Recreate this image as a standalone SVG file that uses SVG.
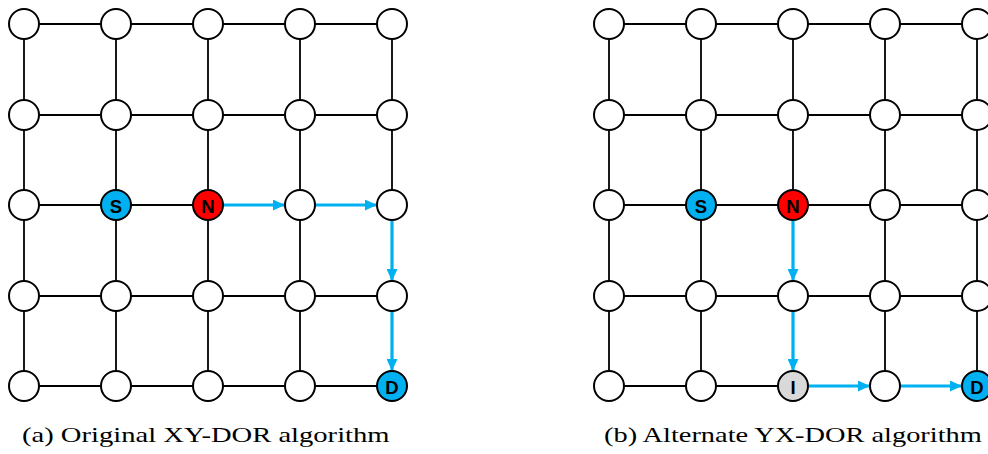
<svg xmlns="http://www.w3.org/2000/svg" width="988" height="454" viewBox="0 0 988 454">
  <style>
    .edge { stroke: #000; stroke-width: 1.8; fill: none; }
    .route { stroke: #00B0F0; stroke-width: 3.2; fill: none; marker-end: url(#head); }
    .node { fill: #fff; stroke: #000; stroke-width: 2; }
    .src { fill: #00B0F0; }
    .cur { fill: #FF0000; }
    .mid { fill: #D9D9D9; }
    .lbl { font-family: "Liberation Sans", Arial, sans-serif; font-weight: bold; font-size: 18.5px; text-anchor: middle; dominant-baseline: central; fill: #000; }
    .cap { font-family: "Liberation Serif", "Times New Roman", serif; font-size: 22px; fill: #000; }
  </style>
  <defs>
    <marker id="head" markerUnits="userSpaceOnUse" markerWidth="12" markerHeight="11" refX="12" refY="5.5" orient="auto">
      <path d="M0,0 L12,5.5 L0,11 Z" fill="#00B0F0"/>
    </marker>
  </defs>
  <rect width="988" height="454" fill="#fff"/>

  <!-- mesh links and routed paths -->
  <g id="connectors">
    <!-- (a) horizontal links -->
    <line class="edge" x1="24" y1="24" x2="116" y2="24"/>
    <line class="edge" x1="116" y1="24" x2="208" y2="24"/>
    <line class="edge" x1="208" y1="24" x2="300" y2="24"/>
    <line class="edge" x1="300" y1="24" x2="392" y2="24"/>
    <line class="edge" x1="24" y1="115" x2="116" y2="115"/>
    <line class="edge" x1="116" y1="115" x2="208" y2="115"/>
    <line class="edge" x1="208" y1="115" x2="300" y2="115"/>
    <line class="edge" x1="300" y1="115" x2="392" y2="115"/>
    <line class="edge" x1="24" y1="205" x2="116" y2="205"/>
    <line class="edge" x1="116" y1="205" x2="208" y2="205"/>
    <line class="edge" x1="24" y1="296" x2="116" y2="296"/>
    <line class="edge" x1="116" y1="296" x2="208" y2="296"/>
    <line class="edge" x1="208" y1="296" x2="300" y2="296"/>
    <line class="edge" x1="300" y1="296" x2="392" y2="296"/>
    <line class="edge" x1="24" y1="386" x2="116" y2="386"/>
    <line class="edge" x1="116" y1="386" x2="208" y2="386"/>
    <line class="edge" x1="208" y1="386" x2="300" y2="386"/>
    <line class="edge" x1="300" y1="386" x2="392" y2="386"/>
    <!-- (a) vertical links -->
    <line class="edge" x1="24" y1="24" x2="24" y2="115"/>
    <line class="edge" x1="24" y1="115" x2="24" y2="205"/>
    <line class="edge" x1="24" y1="205" x2="24" y2="296"/>
    <line class="edge" x1="24" y1="296" x2="24" y2="386"/>
    <line class="edge" x1="116" y1="24" x2="116" y2="115"/>
    <line class="edge" x1="116" y1="115" x2="116" y2="205"/>
    <line class="edge" x1="116" y1="205" x2="116" y2="296"/>
    <line class="edge" x1="116" y1="296" x2="116" y2="386"/>
    <line class="edge" x1="208" y1="24" x2="208" y2="115"/>
    <line class="edge" x1="208" y1="115" x2="208" y2="205"/>
    <line class="edge" x1="208" y1="205" x2="208" y2="296"/>
    <line class="edge" x1="208" y1="296" x2="208" y2="386"/>
    <line class="edge" x1="300" y1="24" x2="300" y2="115"/>
    <line class="edge" x1="300" y1="115" x2="300" y2="205"/>
    <line class="edge" x1="300" y1="205" x2="300" y2="296"/>
    <line class="edge" x1="300" y1="296" x2="300" y2="386"/>
    <line class="edge" x1="392" y1="24" x2="392" y2="115"/>
    <line class="edge" x1="392" y1="115" x2="392" y2="205"/>
    <!-- (a) XY route -->
    <line class="route" x1="223" y1="205" x2="285" y2="205"/>
    <line class="route" x1="315" y1="205" x2="377" y2="205"/>
    <line class="route" x1="392" y1="220" x2="392" y2="281"/>
    <line class="route" x1="392" y1="311" x2="392" y2="371"/>

    <!-- (b) horizontal links -->
    <line class="edge" x1="609" y1="24" x2="701" y2="24"/>
    <line class="edge" x1="701" y1="24" x2="793" y2="24"/>
    <line class="edge" x1="793" y1="24" x2="885" y2="24"/>
    <line class="edge" x1="885" y1="24" x2="977" y2="24"/>
    <line class="edge" x1="609" y1="115" x2="701" y2="115"/>
    <line class="edge" x1="701" y1="115" x2="793" y2="115"/>
    <line class="edge" x1="793" y1="115" x2="885" y2="115"/>
    <line class="edge" x1="885" y1="115" x2="977" y2="115"/>
    <line class="edge" x1="609" y1="205" x2="701" y2="205"/>
    <line class="edge" x1="701" y1="205" x2="793" y2="205"/>
    <line class="edge" x1="793" y1="205" x2="885" y2="205"/>
    <line class="edge" x1="885" y1="205" x2="977" y2="205"/>
    <line class="edge" x1="609" y1="296" x2="701" y2="296"/>
    <line class="edge" x1="701" y1="296" x2="793" y2="296"/>
    <line class="edge" x1="793" y1="296" x2="885" y2="296"/>
    <line class="edge" x1="885" y1="296" x2="977" y2="296"/>
    <line class="edge" x1="609" y1="386" x2="701" y2="386"/>
    <line class="edge" x1="701" y1="386" x2="793" y2="386"/>
    <!-- (b) vertical links -->
    <line class="edge" x1="609" y1="24" x2="609" y2="115"/>
    <line class="edge" x1="609" y1="115" x2="609" y2="205"/>
    <line class="edge" x1="609" y1="205" x2="609" y2="296"/>
    <line class="edge" x1="609" y1="296" x2="609" y2="386"/>
    <line class="edge" x1="701" y1="24" x2="701" y2="115"/>
    <line class="edge" x1="701" y1="115" x2="701" y2="205"/>
    <line class="edge" x1="701" y1="205" x2="701" y2="296"/>
    <line class="edge" x1="701" y1="296" x2="701" y2="386"/>
    <line class="edge" x1="793" y1="24" x2="793" y2="115"/>
    <line class="edge" x1="793" y1="115" x2="793" y2="205"/>
    <line class="edge" x1="885" y1="24" x2="885" y2="115"/>
    <line class="edge" x1="885" y1="115" x2="885" y2="205"/>
    <line class="edge" x1="885" y1="205" x2="885" y2="296"/>
    <line class="edge" x1="885" y1="296" x2="885" y2="386"/>
    <line class="edge" x1="977" y1="24" x2="977" y2="115"/>
    <line class="edge" x1="977" y1="115" x2="977" y2="205"/>
    <line class="edge" x1="977" y1="205" x2="977" y2="296"/>
    <line class="edge" x1="977" y1="296" x2="977" y2="386"/>
    <!-- (b) YX route -->
    <line class="route" x1="793" y1="220" x2="793" y2="281"/>
    <line class="route" x1="793" y1="311" x2="793" y2="371"/>
    <line class="route" x1="808" y1="386" x2="870" y2="386"/>
    <line class="route" x1="900" y1="386" x2="962" y2="386"/>
  </g>

  <!-- (a) mesh routers -->
  <g id="a-r1c1"><circle class="node" cx="24" cy="24" r="15"/></g>
  <g id="a-r1c2"><circle class="node" cx="116" cy="24" r="15"/></g>
  <g id="a-r1c3"><circle class="node" cx="208" cy="24" r="15"/></g>
  <g id="a-r1c4"><circle class="node" cx="300" cy="24" r="15"/></g>
  <g id="a-r1c5"><circle class="node" cx="392" cy="24" r="15"/></g>
  <g id="a-r2c1"><circle class="node" cx="24" cy="115" r="15"/></g>
  <g id="a-r2c2"><circle class="node" cx="116" cy="115" r="15"/></g>
  <g id="a-r2c3"><circle class="node" cx="208" cy="115" r="15"/></g>
  <g id="a-r2c4"><circle class="node" cx="300" cy="115" r="15"/></g>
  <g id="a-r2c5"><circle class="node" cx="392" cy="115" r="15"/></g>
  <g id="a-r3c1"><circle class="node" cx="24" cy="205" r="15"/></g>
  <g id="a-source"><circle class="node src" cx="116" cy="205" r="15"/><text class="lbl" x="116" y="206">S</text></g>
  <g id="a-current"><circle class="node cur" cx="208" cy="205" r="15"/><text class="lbl" x="208" y="206">N</text></g>
  <g id="a-r3c4"><circle class="node" cx="300" cy="205" r="15"/></g>
  <g id="a-r3c5"><circle class="node" cx="392" cy="205" r="15"/></g>
  <g id="a-r4c1"><circle class="node" cx="24" cy="296" r="15"/></g>
  <g id="a-r4c2"><circle class="node" cx="116" cy="296" r="15"/></g>
  <g id="a-r4c3"><circle class="node" cx="208" cy="296" r="15"/></g>
  <g id="a-r4c4"><circle class="node" cx="300" cy="296" r="15"/></g>
  <g id="a-r4c5"><circle class="node" cx="392" cy="296" r="15"/></g>
  <g id="a-r5c1"><circle class="node" cx="24" cy="386" r="15"/></g>
  <g id="a-r5c2"><circle class="node" cx="116" cy="386" r="15"/></g>
  <g id="a-r5c3"><circle class="node" cx="208" cy="386" r="15"/></g>
  <g id="a-r5c4"><circle class="node" cx="300" cy="386" r="15"/></g>
  <g id="a-dest"><circle class="node src" cx="392" cy="386" r="15"/><text class="lbl" x="392" y="387">D</text></g>

  <!-- (b) mesh routers -->
  <g id="b-r1c1"><circle class="node" cx="609" cy="24" r="15"/></g>
  <g id="b-r1c2"><circle class="node" cx="701" cy="24" r="15"/></g>
  <g id="b-r1c3"><circle class="node" cx="793" cy="24" r="15"/></g>
  <g id="b-r1c4"><circle class="node" cx="885" cy="24" r="15"/></g>
  <g id="b-r1c5"><circle class="node" cx="977" cy="24" r="15"/></g>
  <g id="b-r2c1"><circle class="node" cx="609" cy="115" r="15"/></g>
  <g id="b-r2c2"><circle class="node" cx="701" cy="115" r="15"/></g>
  <g id="b-r2c3"><circle class="node" cx="793" cy="115" r="15"/></g>
  <g id="b-r2c4"><circle class="node" cx="885" cy="115" r="15"/></g>
  <g id="b-r2c5"><circle class="node" cx="977" cy="115" r="15"/></g>
  <g id="b-r3c1"><circle class="node" cx="609" cy="205" r="15"/></g>
  <g id="b-source"><circle class="node src" cx="701" cy="205" r="15"/><text class="lbl" x="701" y="206">S</text></g>
  <g id="b-current"><circle class="node cur" cx="793" cy="205" r="15"/><text class="lbl" x="793" y="206">N</text></g>
  <g id="b-r3c4"><circle class="node" cx="885" cy="205" r="15"/></g>
  <g id="b-r3c5"><circle class="node" cx="977" cy="205" r="15"/></g>
  <g id="b-r4c1"><circle class="node" cx="609" cy="296" r="15"/></g>
  <g id="b-r4c2"><circle class="node" cx="701" cy="296" r="15"/></g>
  <g id="b-r4c3"><circle class="node" cx="793" cy="296" r="15"/></g>
  <g id="b-r4c4"><circle class="node" cx="885" cy="296" r="15"/></g>
  <g id="b-r4c5"><circle class="node" cx="977" cy="296" r="15"/></g>
  <g id="b-r5c1"><circle class="node" cx="609" cy="386" r="15"/></g>
  <g id="b-r5c2"><circle class="node" cx="701" cy="386" r="15"/></g>
  <g id="b-intermediate"><circle class="node mid" cx="793" cy="386" r="15"/><text class="lbl" x="793" y="387">I</text></g>
  <g id="b-r5c4"><circle class="node" cx="885" cy="386" r="15"/></g>
  <g id="b-dest"><circle class="node src" cx="977" cy="386" r="15"/><text class="lbl" x="977" y="387">D</text></g>

  <!-- sub-figure captions (set wide) -->
  <text class="cap" transform="translate(22,442) scale(1.3,1)">(a) Original XY-DOR algorithm</text>
  <text class="cap" transform="translate(604,442) scale(1.29,1)">(b) Alternate YX-DOR algorithm</text>
</svg>
